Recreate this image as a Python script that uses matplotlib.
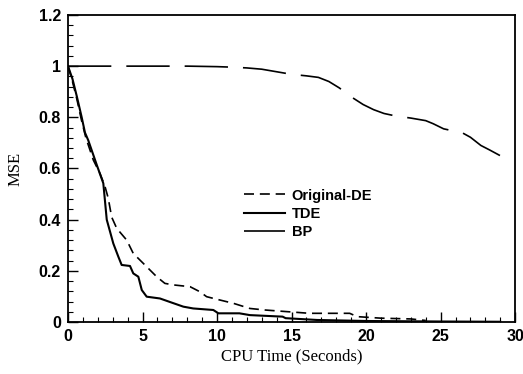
import matplotlib
matplotlib.use("Agg")
import matplotlib.pyplot as plt
from matplotlib.ticker import MultipleLocator

# MSE vs CPU time for the three training methods
bp_t = [0, 2, 4, 6, 8, 10, 11, 12, 13, 14, 15, 16, 16.8, 17.5, 18.2, 19, 19.8,
        20.5, 21.2, 22, 23, 24, 24.5, 25.2, 26, 26.5, 27, 27.7, 28.3, 29]
bp_mse = [1.0, 1.0, 1.0, 1.0, 1.0, 0.998, 0.996, 0.993, 0.988, 0.978, 0.968,
          0.962, 0.956, 0.94, 0.915, 0.88, 0.85, 0.83, 0.815, 0.805, 0.797,
          0.787, 0.775, 0.755, 0.745, 0.738, 0.722, 0.69, 0.672, 0.65]

tde_t = [0, 0.3, 0.6, 0.92, 1.14, 1.36, 1.93, 2.37, 2.6, 3.04, 3.38, 3.6, 4.16,
         4.38, 4.72, 4.95, 5.28, 6.17, 7.0, 7.74, 8.4, 9.75, 10.09, 11.5, 12.2,
         14.4, 14.6, 16.7, 20, 25, 29]
tde_mse = [1.0, 0.95, 0.88, 0.80, 0.74, 0.71, 0.614, 0.542, 0.40, 0.307, 0.255,
           0.223, 0.219, 0.19, 0.177, 0.125, 0.099, 0.092, 0.075, 0.06, 0.053,
           0.047, 0.034, 0.034, 0.027, 0.021, 0.015, 0.008, 0.004, 0.002, 0.001]

de_t = [0, 0.3, 0.6, 0.9, 1.2, 1.7, 2.15, 2.48, 2.7, 2.93, 3.27, 3.94, 4.38,
        5.28, 5.95, 6.5, 7.07, 8.19, 8.86, 9.3, 9.98, 11.1, 12.2, 13.2, 16.2,
        18.9, 19.4, 21, 23, 24]
de_mse = [1.0, 0.94, 0.87, 0.79, 0.72, 0.633, 0.58, 0.53, 0.484, 0.41, 0.366,
          0.32, 0.268, 0.216, 0.177, 0.151, 0.145, 0.138, 0.118, 0.099, 0.089,
          0.073, 0.053, 0.047, 0.034, 0.034, 0.021, 0.015, 0.012, 0.006]

xticks = [0, 5, 10, 15, 20, 25, 30]
yticks = [0, 0.2, 0.4, 0.6, 0.8, 1, 1.2]
ytick_labels = ["0", "0.2", "0.4", "0.6", "0.8", "1", "1.2"]

fig = plt.figure(figsize=(5.23, 3.74), dpi=100)
ax = fig.add_axes([0.130, 0.139, 0.855, 0.821])

ax.plot(de_t, de_mse, color="black", lw=1.2, dashes=(6, 3.5), label="Original-DE")
ax.plot(tde_t, tde_mse, color="black", lw=1.5, label="TDE")
ax.plot(bp_t, bp_mse, color="black", lw=1.2, dashes=(26, 9), label="BP")

ax.set_xlim(0, 30)
ax.set_ylim(0, 1.2)
ax.set_xticks(xticks)
ax.set_xticklabels([str(t) for t in xticks])
ax.set_yticks(yticks)
ax.set_yticklabels(ytick_labels)
ax.xaxis.set_minor_locator(MultipleLocator(1))
ax.yaxis.set_minor_locator(MultipleLocator(0.04))
ax.tick_params(which="both", direction="in", top=False, right=False)
ax.tick_params(which="major", length=7, width=1, pad=5)
ax.tick_params(which="minor", length=3.5, width=0.8)
for lab in ax.get_xticklabels() + ax.get_yticklabels():
    lab.set_fontfamily("Liberation Sans")
    lab.set_fontweight("bold")
    lab.set_fontsize(11.5)
for sp in ax.spines.values():
    sp.set_linewidth(1.3)

ax.set_xlabel("CPU Time (Seconds)", family="Liberation Serif", fontsize=12, labelpad=3)
ax.set_ylabel("MSE", family="Liberation Serif", fontsize=12, labelpad=11)

leg = ax.legend(loc="center left", bbox_to_anchor=(0.365, 0.352), frameon=False,
                handlelength=2.8, handletextpad=0.45, labelspacing=0.3,
                prop={"family": "Liberation Sans", "weight": "bold", "size": 10.5})

fig.savefig("out.png", dpi=100)
